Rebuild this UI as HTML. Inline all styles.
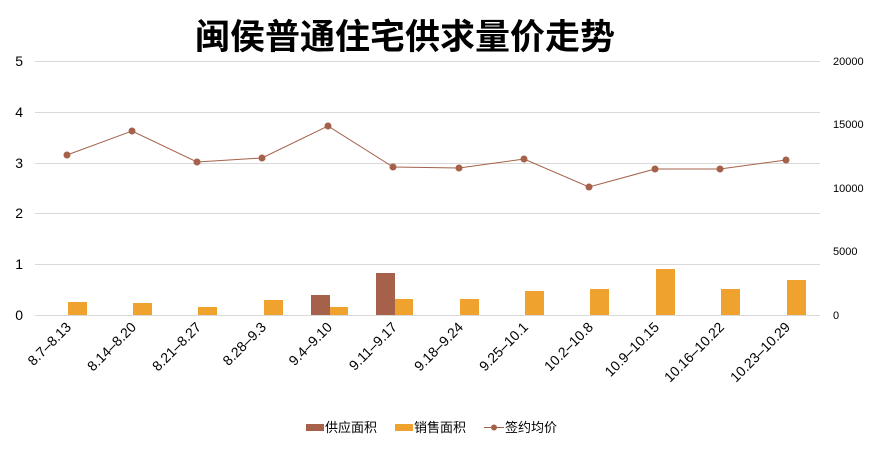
<!DOCTYPE html>
<html><head><meta charset="utf-8"><style>
body{margin:0;background:#fff;}
svg{display:block;font-family:"Liberation Sans","Noto Sans CJK SC",sans-serif;}
</style></head><body>
<svg width="881" height="452" viewBox="0 0 881 452" xmlns="http://www.w3.org/2000/svg">
<rect width="881" height="452" fill="#fff"/>
<text x="405" y="49" text-anchor="middle" font-size="35" font-weight="bold" font-family="'Noto Sans CJK SC',sans-serif" fill="#000">闽侯普通住宅供求量价走势</text>
<g stroke="#d9d9d9" stroke-width="1">
<line x1="35" y1="61.5" x2="820" y2="61.5"/>
<line x1="35" y1="112.5" x2="820" y2="112.5"/>
<line x1="35" y1="163.5" x2="820" y2="163.5"/>
<line x1="35" y1="213.5" x2="820" y2="213.5"/>
<line x1="35" y1="264.5" x2="820" y2="264.5"/>
<line x1="35" y1="315.5" x2="820" y2="315.5"/>
</g>
<g font-size="14" fill="#000" text-anchor="end">
<text x="23" y="66">5</text><text x="23" y="117">4</text><text x="23" y="168">3</text>
<text x="23" y="218">2</text><text x="23" y="269">1</text><text x="23" y="320">0</text>
</g>
<g font-size="11" fill="#000" text-anchor="start">
<text x="833" y="65">20000</text><text x="833" y="128">15000</text><text x="833" y="192">10000</text>
<text x="833" y="255">5000</text><text x="833" y="319">0</text>
</g>
<g fill="#f0a22e">
<rect x="68" y="302" width="19" height="13"/>
<rect x="133" y="303" width="19" height="12"/>
<rect x="198" y="307" width="19" height="8"/>
<rect x="264" y="300" width="19" height="15"/>
<rect x="329" y="307" width="19" height="8"/>
<rect x="394" y="299" width="19" height="16"/>
<rect x="460" y="299" width="19" height="16"/>
<rect x="525" y="291" width="19" height="24"/>
<rect x="590" y="289" width="19" height="26"/>
<rect x="656" y="269" width="19" height="46"/>
<rect x="721" y="289" width="19" height="26"/>
<rect x="787" y="280" width="19" height="35"/>
</g>
<g fill="#a5614a">
<rect x="311" y="295" width="19" height="20"/>
<rect x="376" y="273" width="19" height="42"/>
</g>
<polyline fill="none" stroke="#a5614a" stroke-width="1" points="67,155 132,131 197,162 262,158 328,126 393,167 459,168 524,159 589,187 655,169 720,169 786,160"/>
<g fill="#a5614a">
<circle cx="67" cy="155" r="3.5"/><circle cx="132" cy="131" r="3.5"/><circle cx="197" cy="162" r="3.5"/>
<circle cx="262" cy="158" r="3.5"/><circle cx="328" cy="126" r="3.5"/><circle cx="393" cy="167" r="3.5"/>
<circle cx="459" cy="168" r="3.5"/><circle cx="524" cy="159" r="3.5"/><circle cx="589" cy="187" r="3.5"/>
<circle cx="655" cy="169" r="3.5"/><circle cx="720" cy="169" r="3.5"/><circle cx="786" cy="160" r="3.5"/>
</g>
<g font-size="14" fill="#000" text-anchor="end">
<text transform="translate(72,328) rotate(-45)">8.7–8.13</text>
<text transform="translate(137,328) rotate(-45)">8.14–8.20</text>
<text transform="translate(202,328) rotate(-45)">8.21–8.27</text>
<text transform="translate(267,328) rotate(-45)">8.28–9.3</text>
<text transform="translate(333,328) rotate(-45)">9.4–9.10</text>
<text transform="translate(398,328) rotate(-45)">9.11–9.17</text>
<text transform="translate(464,328) rotate(-45)">9.18–9.24</text>
<text transform="translate(529,328) rotate(-45)">9.25–10.1</text>
<text transform="translate(594,328) rotate(-45)">10.2–10.8</text>
<text transform="translate(660,328) rotate(-45)">10.9–10.15</text>
<text transform="translate(725,328) rotate(-45)">10.16–10.22</text>
<text transform="translate(791,328) rotate(-45)">10.23–10.29</text>
</g>
<g font-size="13" fill="#000">
<rect x="306" y="424" width="18" height="7" fill="#a5614a"/>
<text x="325" y="432">供应面积</text>
<rect x="395" y="424" width="18" height="7" fill="#f0a22e"/>
<text x="414" y="432">销售面积</text>
<line x1="484" y1="427.5" x2="504" y2="427.5" stroke="#a5614a" stroke-width="1"/>
<circle cx="494" cy="427.5" r="3" fill="#a5614a"/>
<text x="505" y="432">签约均价</text>
</g>
</svg>
</body></html>
